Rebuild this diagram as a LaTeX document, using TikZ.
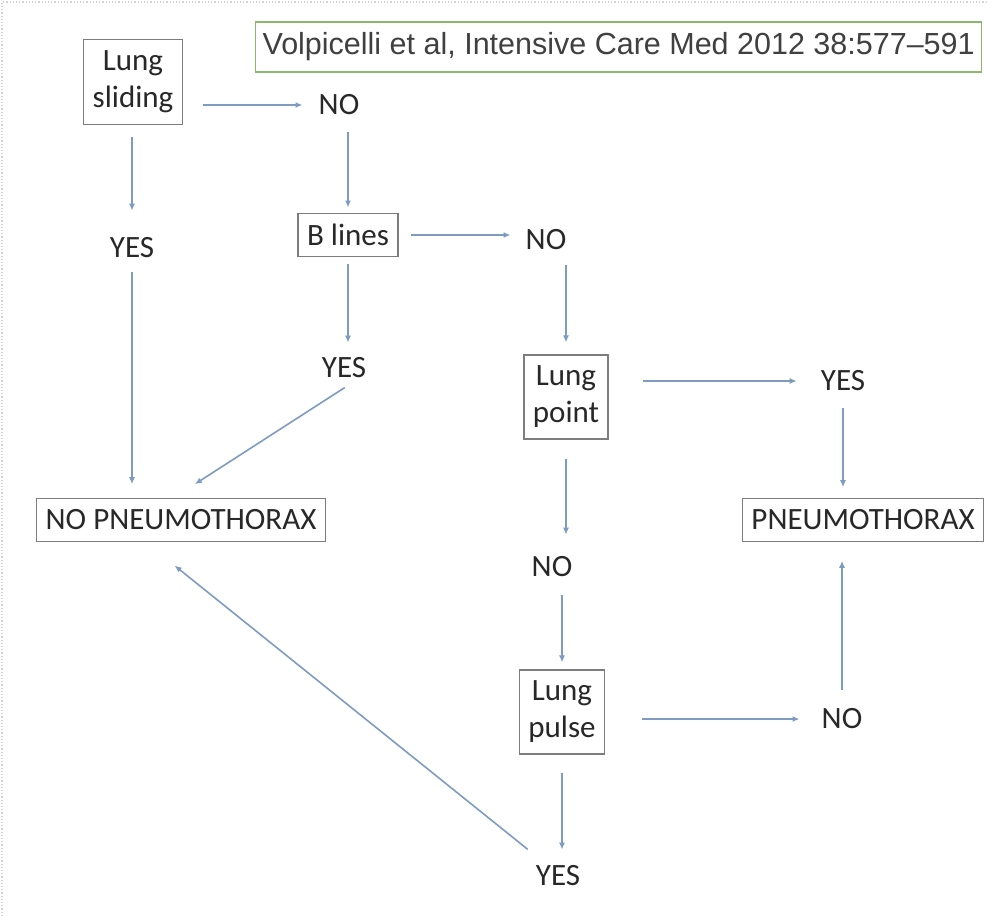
\documentclass[tikz,border=0pt]{standalone}
\usepackage{fontspec}
\setmainfont{Carlito}
\newfontfamily\citefont{Liberation Sans}
\usepackage{xcolor}
\definecolor{flowblue}{RGB}{126,156,194}
\definecolor{boxgray}{RGB}{125,125,125}
\definecolor{citegreen}{RGB}{138,184,108}
\definecolor{labeltext}{RGB}{40,40,40}
\usetikzlibrary{arrows.meta}
\tikzset{
  flow box/.style={draw=boxgray, line width=1.2pt, align=center, inner xsep=9pt, inner ysep=11pt, text=labeltext, font=\fontsize{31}{37}\selectfont},
  flow label/.style={inner sep=0pt, text=labeltext, font=\fontsize{31}{37}\selectfont},
  flow edge/.style={-{Latex[length=7pt,width=6pt]}, draw=flowblue, line width=1.6pt},
  gap/.style 2 args={shorten <=#1pt, shorten >=#2pt},
}

\begin{document}
\begin{tikzpicture}[x=1pt, y=-1pt]
  \clip (0,0) rectangle (987,916);
  \fill[white] (0,0) rectangle (987,916);
  \draw[gray!35, dotted, line width=1.2pt] (2,916) -- (2,2) -- (987,2);
  % reference
  \node[draw=citegreen, line width=1.2pt, anchor=west, inner xsep=7pt, minimum height=50pt, text=black!75, font=\citefont\fontsize{30.5}{36}\selectfont] (cite) at (255,47) {Volpicelli et al, Intensive Care Med 2012 38:577\textendash591};
  % boxes
  \node[flow box] (slide) at (133,82) {Lung\\sliding};
  \node[flow box] (blines) at (348,235) {B lines};
  \node[flow box] (nopx) at (181,520) {NO PNEUMOTHORAX};
  \node[flow box] (lpoint) at (566,397) {Lung\\point};
  \node[flow box] (pnx) at (863,520) {PNEUMOTHORAX};
  \node[flow box] (lpulse) at (562,712) {Lung\\pulse};
  % answers
  \node[flow label] (no1) at (339,105) {NO};
  \node[flow label] (yes1) at (132,248) {YES};
  \node[flow label] (no2) at (546,240) {NO};
  \node[flow label] (yes2) at (344,368) {YES};
  \node[flow label] (yes3) at (843,381) {YES};
  \node[flow label] (no3) at (552,567) {NO};
  \node[flow label] (no4) at (842,719) {NO};
  \node[flow label] (yes4) at (558,876) {YES};
  % connectors
  \draw[flow edge, gap={20}{16}] (slide.east |- no1.west) -- (no1.west);
  \draw[flow edge, gap={12}{27}] (slide.south -| yes1) -- (yes1.north);
  \draw[flow edge, gap={14}{14}] (yes1.south) -- (yes1.south |- nopx.north);
  \draw[flow edge, gap={17}{5}] (no1.south -| blines) -- (blines.north);
  \draw[flow edge, gap={12}{15}] (blines.east) -- (blines.east -| no2.west);
  \draw[flow edge, gap={7}{15}] (blines.south) -- (blines.south |- yes2.north);
  \draw[flow edge, gap={17}{26}] ([xshift=15pt]yes2.south) -- ([xshift=-8pt]nopx.north);
  \draw[flow edge, gap={15}{12}] (no2.south -| lpoint) -- (lpoint.north);
  \draw[flow edge, gap={34}{24}] (lpoint.east |- yes3.west) -- (yes3.west);
  \draw[flow edge, gap={17}{11}] (yes3.south) -- (yes3.south |- pnx.north);
  \draw[flow edge, gap={19}{22}] (lpoint.south) -- (lpoint.south |- no3.north);
  \draw[flow edge, gap={18}{7}] (no3.south -| lpulse) -- (lpulse.north);
  \draw[flow edge, gap={37}{22}] (lpulse.east |- no4.west) -- (no4.west);
  \draw[flow edge, gap={19}{19}] (no4.north) -- (no4.north |- pnx.south);
  \draw[flow edge, gap={18}{16}] (lpulse.south) -- (lpulse.south |- yes4.north);
  \draw[flow edge, gap={26}{38}] ([xshift=-10pt]yes4.north) -- ([xshift=-36pt]nopx.south);
\end{tikzpicture}
\end{document}
